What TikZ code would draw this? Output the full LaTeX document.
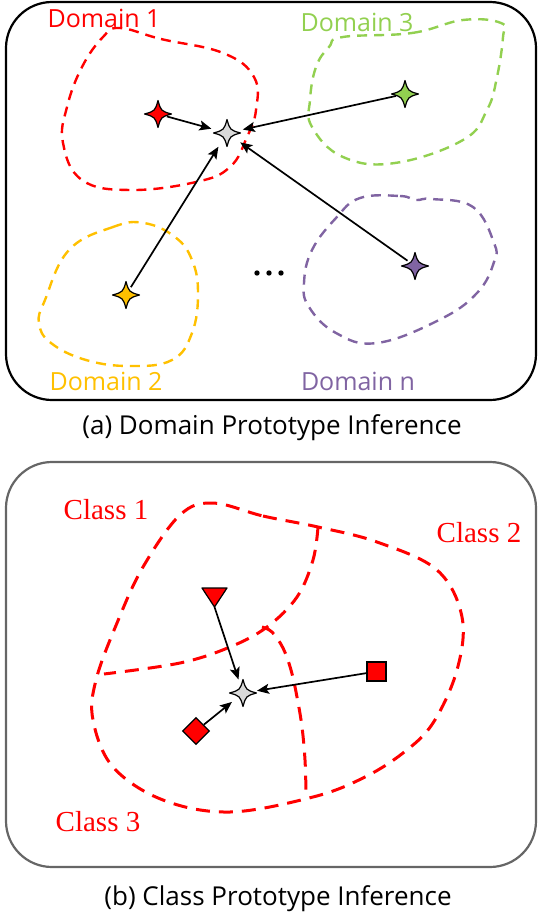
\documentclass[tikz,border=0pt]{standalone}
\usepackage{fontspec}
\usetikzlibrary{arrows.meta,shapes.geometric}
\newfontfamily\capfont{Open Sans}
\newfontfamily\clsfont{Liberation Serif}
\definecolor{dgreen}{HTML}{92D050}
\definecolor{dyellow}{HTML}{FFC000}
\definecolor{dpurple}{HTML}{8064A2}
\definecolor{protogrey}{HTML}{D9D9D9}
\definecolor{framegrey}{HTML}{666666}
\tikzset{
  pics/spark/.style={code={\draw[line width=1.2pt,fill=#1,line join=round]
    (0,-13.5) .. controls (3,-3) .. (13.5,0) .. controls (3,3) .. (0,13.5)
    .. controls (-3,3) .. (-13.5,0) .. controls (-3,-3) .. (0,-13.5) -- cycle;}},
  src/.style={circle,inner sep=0pt,minimum size=18pt},
  tgt/.style={circle,inner sep=0pt,minimum size=#1},
  arr/.style={line width=1.7pt,-{Stealth[length=12pt,width=10pt,inset=2.5pt]}},
  blobA/.style={dashed,dash pattern=on 10pt off 7pt,line width=2.4pt},
  blobB/.style={red,dash pattern=on 14pt off 9pt,line width=3pt},
  domlabel/.style={font=\capfont\fontsize{25}{30}\selectfont,inner sep=0pt},
  clslabel/.style={font=\clsfont\fontsize{29}{34}\selectfont,inner sep=0pt,red},
  caption/.style={font=\capfont\fontsize{26}{32}\selectfont,inner sep=0pt},
  panelframe/.style={rounded corners=46pt,line width=2.2pt},
  redmark/.style={draw,line width=1.2pt,fill=red,inner sep=0pt},
}
\begin{document}
\begin{tikzpicture}[x=1pt,y=-1pt]
\useasboundingbox (0,0) rectangle (538,915);
% ---------- panel (a) ----------
\draw[panelframe,black] (6,2) rectangle (536,400);
\draw[blobA,red] plot[smooth cycle,tension=0.7] coordinates {(120,28) (161,39) (223,53) (254,77) (256,110) (247,137) (230,167) (196,182) (130,190) (82,180) (63,143) (67,107) (82,67) (103,37)};
\draw[blobA,dgreen] plot[smooth cycle,tension=0.7] coordinates {(343,37) (412,33) (463,20) (501,23) (503,37) (497,77) (487,110) (463,140) (395,163) (343,157) (312,127) (310,100) (316,67) (329,47)};
\draw[blobA,dyellow] plot[smooth cycle,tension=0.7] coordinates {(144,223) (113,227) (69,250) (45,300) (39,323) (51,343) (86,360) (130,366) (172,360) (192,333) (198,293) (192,260) (175,237)};
\draw[blobA,dpurple] plot[smooth cycle,tension=0.7] coordinates {(360,198) (400,196) (416,200) (432,199) (473,207) (494,243) (494,262) (477,293) (439,320) (377,343) (336,333) (309,307) (304,283) (312,250) (336,218)};
\node[domlabel,red] (l1) at (104,18) {Domain 1};
\node[domlabel,dgreen] (l3) at (357,22) {Domain 3};
\node[domlabel,dyellow] (l2) at (106,381) {Domain 2};
\node[domlabel,dpurple] (ln) at (358,381) {Domain n};
\foreach \dx in {257,269,281} {\fill (\dx,273) circle (2.7pt);}
% stars
\node[src] (sr) at (158,114) {};   \pic at (158,114) {spark=red};
\node[src] (sg) at (405,94) {};    \pic at (405,94) {spark=dgreen};
\node[src] (sy) at (126,295) {};   \pic at (126,295) {spark=dyellow};
\node[src] (sp) at (415,266) {};   \pic at (415,266) {spark=dpurple};
\node[tgt=32pt] (ga) at (227,133) {}; \pic at (227,133) {spark=protogrey};
\draw[arr] (sr) -- (ga);
\draw[arr] (sg) -- (ga);
\draw[arr] (sy) -- (ga);
\draw[arr] (sp) -- (ga);
\node[caption] (capa) at (272,428) {(a) Domain Prototype Inference};
% ---------- panel (b) ----------
\draw[panelframe,framegrey] (6,462) rectangle (536,867);
\draw[blobB] plot[smooth cycle,tension=0.6] coordinates {(213,503) (263,516) (318,527) (377,542) (437,570) (462,617) (457,670) (433,723) (403,753) (363,778) (313,797) (230,812) (163,800) (113,767) (93,720) (96,680) (117,623) (143,567) (180,515)};
\draw[blobB] plot[smooth,tension=0.6] coordinates {(318,527) (313,560) (297,597) (267,627) (230,647) (180,663) (104,674)};
\draw[blobB] plot[smooth,tension=0.6] coordinates {(262,627) (272,632) (283,648) (291,670) (297,697) (302,727) (305,760) (306,792)};
\node[clslabel] (c1) at (106,510) {Class 1};
\node[clslabel] (c2) at (479,533) {Class 2};
\node[clslabel] (c3) at (98,822) {Class 3};
\draw[line width=1.2pt,fill=red,line join=round] (202,588) -- (227,588) -- (214.5,607) -- cycle;
\coordinate (tritip) at (214.5,607);
\node[redmark,minimum size=19pt] (sq) at (376.5,671.5) {};
\node[redmark,diamond,minimum size=27pt] (dm) at (196,731) {};
\node[tgt=28pt] (gb) at (243,693) {}; \pic at (243,693) {spark=protogrey};
\draw[arr] (tritip) -- (gb);
\draw[arr] (sq) -- (gb);
\draw[arr] (dm) -- (gb);
\node[caption] (capb) at (278,899) {(b) Class Prototype Inference};
\end{tikzpicture}
\end{document}
